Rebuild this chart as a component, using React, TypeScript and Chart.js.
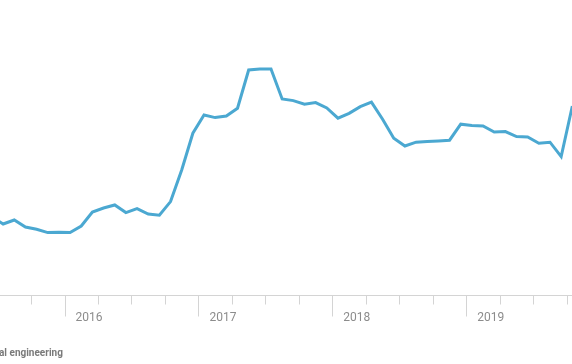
import React, { useEffect, useRef } from "react";
import { Chart, registerables } from "chart.js";

Chart.register(...registerables);

const months = [
  "2015-06", "2015-07", "2015-08", "2015-09", "2015-10", "2015-11", "2015-12",
  "2016-01", "2016-02", "2016-03", "2016-04", "2016-05", "2016-06", "2016-07", "2016-08", "2016-09", "2016-10", "2016-11", "2016-12",
  "2017-01", "2017-02", "2017-03", "2017-04", "2017-05", "2017-06", "2017-07", "2017-08", "2017-09", "2017-10", "2017-11", "2017-12",
  "2018-01", "2018-02", "2018-03", "2018-04", "2018-05", "2018-06", "2018-07", "2018-08", "2018-09", "2018-10", "2018-11", "2018-12",
  "2019-01", "2019-02", "2019-03", "2019-04", "2019-05", "2019-06", "2019-07", "2019-08", "2019-09", "2019-10",
];

const values = [
  39.5, 36, 38, 34.5, 33.4, 31.7, 31.9,
  31.7, 35, 42, 44, 45.5, 41.7, 43.7, 41, 40.4, 47.2, 63, 81.4,
  90.5, 89.2, 90, 93.9, 113, 113.5, 113.5, 98.5, 97.7, 95.9, 96.7, 94,
  88.9, 91.3, 94.7, 96.9, 88.4, 78.9, 75, 76.9, 77.2, 77.5, 77.9, 85.9,
  85.2, 85, 82, 82.2, 79.7, 79.5, 76.4, 76.9, 69.7, 95,
];

const yearTicks = [2016, 2017, 2018, 2019];
const seriesLabel = "al engineering";

const BASE_YEAR = 2016;
const monthToX = (m: string) => {
  const [y, mo] = m.split("-").map(Number);
  return (y - BASE_YEAR) * 12 + (mo - 1) + 0.5;
};

export default function App() {
  const ref = useRef<HTMLCanvasElement | null>(null);

  useEffect(() => {
    if (!ref.current) return;
    const axisPlugin = {
      id: "customAxis",
      afterDraw(chart: any) {
        const ctx = chart.ctx;
        const xs = chart.scales.x;
        const area = chart.chartArea;
        const yAxis = Math.round(area.bottom) - 0.5;
        ctx.save();
        ctx.strokeStyle = "#d4d4d4";
        ctx.lineWidth = 1;
        ctx.beginPath();
        ctx.moveTo(0, yAxis);
        ctx.lineTo(chart.width, yAxis);
        ctx.stroke();
        const start = Math.ceil(xs.min / 3) * 3;
        for (let q = start; q <= xs.max; q += 3) {
          const px = Math.round(xs.getPixelForValue(q)) + 0.5;
          const isYear = q % 12 === 0;
          ctx.beginPath();
          ctx.moveTo(px, yAxis);
          ctx.lineTo(px, yAxis + (isYear ? 21 : 9));
          ctx.stroke();
        }
        ctx.fillStyle = "#8c8c8c";
        ctx.font = "12px Roboto";
        ctx.textAlign = "left";
        ctx.textBaseline = "alphabetic";
        yearTicks.forEach((yr) => {
          const px = xs.getPixelForValue((yr - BASE_YEAR) * 12);
          ctx.fillText(String(yr), px + 11, yAxis + 25);
        });
        ctx.fillStyle = "#7a7a7a";
        ctx.font = "bold 10px Roboto";
        ctx.textAlign = "left";
        ctx.fillText(seriesLabel, -1, 356);
        ctx.restore();
      },
    };

    const chart = new Chart(ref.current, {
      type: "line",
      data: {
        datasets: [
          {
            data: months.map((m, i) => ({ x: monthToX(m), y: values[i] })),
            borderColor: "#4ba8d1",
            borderWidth: 3,
            pointRadius: 0,
            tension: 0,
            fill: false,
          },
        ],
      },
      options: {
        responsive: false,
        animation: false,
        layout: { padding: { left: 0, right: 0, top: 0, bottom: 68 } },
        plugins: { legend: { display: false }, tooltip: { enabled: false } },
        scales: {
          x: { type: "linear", display: false, min: -5.78, max: 45.47 },
          y: { display: false, min: 0, max: 148 },
        },
      },
      plugins: [axisPlugin],
    });
    return () => chart.destroy();
  }, []);

  return (
    <div style={{ position: "absolute", left: 0, top: 0, width: 572, height: 364, background: "#fff" }}>
      <canvas ref={ref} width={572} height={364} />
    </div>
  );
}
